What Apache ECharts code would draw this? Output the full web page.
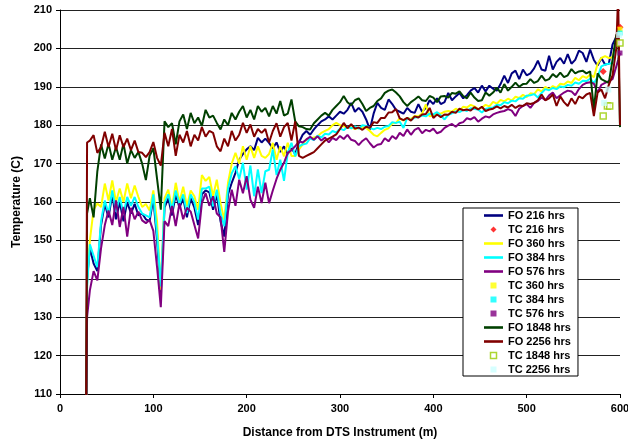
<!DOCTYPE html>
<html><head><meta charset="utf-8">
<script src="https://cdn.jsdelivr.net/npm/echarts@6/dist/echarts.min.js"></script>
<style>html,body{margin:0;padding:0;background:#fff}#c{width:628px;height:442px}</style>
</head><body><div id="c"></div>
<script>
// Distance from DTS instrument (m)
const distance = [28,29,32,36,40,44,48,52,56,60, 64,68,72,76,80,84,88,92,96,100,
 104,108,112,116,120,124,128,132,136,140, 144,148,152,156,160,164,168,172,176,180,
 184,188,192,196,200,204,208,212,216,220, 224,228,232,236,240,244,248,252,256,260,
 264,268,272,276,280,284,288,292,296,300, 304,308,312,316,320,324,328,332,336,340,
 344,348,352,356,360,364,368,372,376,380, 384,388,392,396,400,404,408,412,416,420,
 424,428,432,436,440,444,448,452,456,460, 464,468,472,476,480,484,488,492,496,500,
 504,508,512,516,520,524,528,532,536,540, 544,548,552,556,560,564,568,572,576,580,
 584,588,592,596,598,600];

const fo216 = [100,140,148,144,142,154,159.5,156,162,155.5,
 160,155,160,157,159.5,156.5,157,155.5,155,161,
 150,136,158.5,161,156.5,162,158.5,161,156,161,
 158.5,154,162,163,162.5,158,162,155,151,162,
 165,167.6,171,172.5,173.7,174.5,173.5,176.7,175.5,176.5,
 175.4,174,175.5,173,174.5,172.5,174,172.5,175.5,177.5,
 178.5,177.5,178.9,180,181,181.5,182.3,181.5,182.5,183.5,
 183,184,185.8,183.5,184.5,183.5,181.5,178.9,183,185.8,
 184.5,184,186.7,185.5,184,183.5,183,184.5,183.5,183.2,
 185.5,183.5,184.5,186.5,185.5,187,185.5,186,188.4,186.5,
 187.5,188.4,187,187.8,189,189.7,188.5,190.3,188.8,190.3,
 189.5,189,190.7,192.9,191,193.5,194.2,192,194.5,193,
 193.5,194.8,196.8,194.5,194.2,198.1,194.5,196.5,197.5,196,
 198.5,196,197,199.4,198.8,196.5,199.7,197,195.5,197.5,
 195.8,196,201,203,203.5,204];

const fo360 = [100,140,150,158,159.6,158.7,164.8,160.4,165.6,160,
 163.5,160,164.8,161,164.3,161.3,158.7,159.5,157.8,163,
 155,137,161,163.2,158.5,165,160,164,158.9,163,
 161.5,158,167,165.5,166.5,161.5,165.8,159.7,155.4,165,
 170,172.8,170,174.5,171,174.5,171.5,174.5,172,171.5,
 172.5,175.4,171,174.5,171.9,175.4,172,172,173.7,175,
 176.3,176.5,176.8,177.1,178,178.5,179,180,180.6,180,
 179.7,179.3,179.5,179,179.3,179.5,179.3,178.5,177.5,177.1,
 178,178.8,179.2,180.5,180.6,181.8,181.2,181.9,181.6,182.4,
 182.3,183,185.4,182.3,182.5,183.2,183,183.5,183.7,183.5,
 184.3,183.8,184.8,184.6,185.3,184.9,184.2,184.6,185.3,184.9,
 186.1,185.6,186.6,186.2,186.9,186.4,187.4,187.1,187.9,187.3,
 188.3,188.1,189.3,188.8,190,189.3,190.2,189.7,190.8,190.6,
 191.4,191,192.3,191.7,192.8,192.3,193.2,192.5,196,197.5,
 198,197.5,197.7,202,204,205];

const fo384 = [100,138,149,146,143,155,160.4,157,163,157.5,
 161.3,157,161.3,159,161.3,158.7,157,156.5,156,162,
 151.7,138,159.7,162,158,163,159.5,162,157.1,162,
 160,155.4,163.5,163.5,164,158.9,163.2,157.1,153.7,163.5,
 167.5,169.3,166,170.2,163.2,169.5,161.5,168.5,162.3,168,
 168.4,173.7,167,171,165.5,172.8,175.4,171.9,174.5,175,
 175.2,176.6,176.1,177.3,176.8,177.8,177.6,178.5,178.1,179.1,
 178.7,179.6,179.2,179.7,179.1,180,179.8,179.3,178.9,179.3,
 179,179.6,179.8,180.8,180.6,180.9,179.3,181.9,181.3,182,
 182.1,182.5,182.3,183,182.8,183.4,182.5,181.5,182.7,183.1,
 183.6,183.4,184,183.7,184.4,184.2,184.1,183.3,184.2,184.5,
 184.6,185.3,185.2,186,185.7,186.4,186.2,187,186.9,187.7,
 187.8,188.1,187.2,188.4,189.4,189.1,189.7,189.4,190.1,189.9,
 190.5,190.3,191.1,190.8,191.6,191.5,192.1,191,192.5,195.3,
 195.8,196,196.2,201.4,203,204];

const fo576 = [100,130,137,142,139.6,148,154,157.8,154,160.4,
 153.5,158.7,151,158.5,155.5,157.5,155.2,154.5,155.3,152.5,
 143,132.6,155,153.7,159,153.7,159.7,155.5,158.5,157.5,
 154,150.5,159.7,162.3,159,161.5,157,156,147,157.5,
 163.2,159,165.8,162.3,166.7,160.6,158.5,164,159.7,165,
 159.7,163,166,168.4,170.2,172.8,173.5,174.5,175.8,175.5,
 176.3,177,176.2,177.1,176,176.8,175.5,176.7,176.1,177.2,
 176.4,177.5,176.2,175.9,174.8,175.9,176.6,175.3,174.2,174.9,
 175.1,176.6,175.8,177.2,176.4,178,177.2,178.9,177.5,178.8,
 179.3,177.9,178.8,178.4,179.1,177.9,178.3,179.3,179.9,180.3,
 179.6,180.5,180.8,181.8,181.5,182.1,180.9,181.7,182.3,182,
 182.8,183.2,183.5,183.7,184.2,183.8,182.4,184.3,185,185.5,
 184.5,185.8,186.3,187.2,186.5,187.8,188.5,187,187.8,188.5,
 189,188.8,187.8,189.4,190.5,191,191.2,190.8,188.5,190.5,
 191,191.5,192,195.3,197,198.8];

const fo1848 = [100,157,161,156,168,175,171.3,175.2,171,174.3,
 171,175.2,170,173.5,171.5,173,170,165.7,172,174,
 166,158,181,179.5,180.5,175,181,182.8,179,183.2,
 180.5,182,179.8,184,182,182.5,180.6,178.9,181.5,180,
 183.2,181.5,183.5,185,182,184,181.5,185,183.5,184.5,
 182.3,185,183,186.3,182.5,183,186.7,181,179.7,179.5,
 179,178.9,180.5,181.5,182.5,183.2,182.5,184,185,186,
 187.6,186,185.2,186.5,187,185.5,183.7,184.5,185,186.3,
 187,188.4,189,189.3,188.5,187.5,186,185,186,186.7,
 187.5,186.5,186.3,187.6,187.2,186,187.5,187.6,187.2,188.4,
 188.2,188.8,187.6,187,188.5,187.2,186.3,186.5,188.5,187.7,
 188.5,189.8,188.5,190.7,189,190,191.1,190,190.7,190.8,
 192,191,191.5,192.9,191.6,192,193.3,192.5,193.7,192.5,
 193,194.6,193.5,194,194.2,193.5,194,184,193.5,192,
 191.5,191,197,203.5,204.2,179.5];

const fo2256 = [100,175.5,176,177.4,172.8,174.3,178.3,174.3,177.8,173.5,
 177.4,174.3,176.5,173.5,176,173,172.8,171.7,173,175.6,
 171.5,169.5,178,174.5,179,172,177.5,175.5,178.5,174.5,
 177.5,176,179.5,177,178.5,178,174.5,173.2,176.5,174.5,
 178.5,176,177.5,180.6,178,180.2,177,179,178,179,
 175.5,178.5,180.5,177,179.5,180.6,176,181,172,171.5,
 172,172.5,173,174,175,176,176.5,177,177.6,179,
 180.6,179.2,180.3,179.1,179.4,178.8,179.6,179.3,180.8,180.6,
 181.9,181.9,183.3,183.4,184.2,181.8,181.3,181.9,181.2,182.3,
 182,182.8,182.9,184.5,181.9,182.8,182.1,182.8,182.7,183.5,
 183.2,184.3,183.9,184.1,183.8,184.7,184.1,184.8,183.7,184.1,
 184.3,184.9,184.4,185,184.6,185.3,184.5,185.1,185,185.7,
 185.5,185.8,186.5,188,186.5,187,188,185,187.5,186,
 185,187,185.5,187.5,187,188,188.4,182.4,188.5,189.3,
 187,190.5,193,200,214,180];

// Thermocouple readings [distance, temperature]
const tc216 = [[582,194],[600,205.5]];
const tc360 = [[600,205]];
const tc384 = [[600,204]];
const tc576 = [[600,198.8]];
const tc1848 = [[582,182.4],[586.5,185],[589,185],[600,201.4]];
const tc2256 = [[583,185.8],[587.5,189.3],[599,203.5]];

const xTicks = {min:0, max:600, step:100};
const yTicks = {min:110, max:210, step:10};

const FONT = '"Liberation Sans", Arial, Helvetica, sans-serif';
const LINE_ICON = 'path://M0,0L19,0L19,2.6L0,2.6Z';
const SQUARE_ICON = 'path://M0,0L10,0L10,10L0,10Z';
const DIAMOND_ICON = 'path://M5,0L10,5L5,10L0,5Z';

function pairs(ys){ return distance.map((x,i)=>[x, ys[i]]); }
function line(name, ys, color){
  return {name, type:'line', data:pairs(ys), symbol:'none', showSymbol:false,
    lineStyle:{color, width:2}, itemStyle:{color}, clip:true, animation:false};
}
function dots(name, pts, symbol, size, style){
  return {name, type:'scatter', data:pts, symbol, symbolSize:size, itemStyle:style, clip:false, animation:false, z:5};
}

const series = [
  line('FO 216 hrs', fo216, '#000080'),
  dots('TC 216 hrs', tc216, 'diamond', 7, {color:'#ff0000'}),
  line('FO 360 hrs', fo360, '#ffff00'),
  line('FO 384 hrs', fo384, '#00ffff'),
  line('FO 576 hrs', fo576, '#800080'),
  dots('TC 360 hrs', tc360, 'rect', 5, {color:'#ffff00'}),
  dots('TC 384 hrs', tc384, 'rect', 5, {color:'#00ffff'}),
  dots('TC 576 hrs', tc576, 'rect', 5, {color:'#800080'}),
  line('FO 1848 hrs', fo1848, '#004000'),
  line('FO 2256 hrs', fo2256, '#800000'),
  dots('TC 1848 hrs', tc1848, 'rect', 6, {color:'#ffffff', borderColor:'#99cc00', borderWidth:1.5}),
  dots('TC 2256 hrs', tc2256, 'rect', 6, {color:'#ccffff'})
];

const legendData = series.map(s => {
  if (s.type === 'line') return {name:s.name, icon:LINE_ICON, itemStyle:{color:s.lineStyle.color}};
  return {name:s.name, icon: s.symbol === 'diamond' ? DIAMOND_ICON : SQUARE_ICON,
    itemStyle:Object.assign({borderWidth:0}, s.itemStyle)};
});

const chart = echarts.init(document.getElementById('c'), null, {renderer:'canvas'});
chart.setOption({
  animation:false,
  backgroundColor:'#ffffff',
  textStyle:{fontFamily:FONT},
  grid:{left:60, right:8, top:10, bottom:48, containLabel:false, outerBoundsMode:'none'},
  xAxis:{type:'value', min:xTicks.min, max:xTicks.max, interval:xTicks.step,
    axisLine:{show:true, onZero:false, lineStyle:{color:'#000', width:1}},
    axisTick:{show:true, length:4, lineStyle:{color:'#000'}},
    axisLabel:{color:'#000', fontWeight:'bold', fontSize:11, fontFamily:FONT, margin:9},
    splitLine:{show:false},
    name:'Distance from DTS Instrument (m)', nameLocation:'middle', nameGap:33,
    nameTextStyle:{color:'#000', fontWeight:'bold', fontSize:12, fontFamily:FONT}},
  yAxis:{type:'value', min:yTicks.min, max:yTicks.max, interval:yTicks.step,
    axisLine:{show:true, onZero:false, lineStyle:{color:'#000', width:1}},
    axisTick:{show:true, length:4, lineStyle:{color:'#000'}},
    axisLabel:{color:'#000', fontWeight:'bold', fontSize:11, fontFamily:FONT, margin:8},
    splitLine:{show:true, lineStyle:{color:'#222', width:1}},
    name:'Temperature (C)', nameLocation:'middle', nameGap:35,
    nameTextStyle:{color:'#000', fontWeight:'bold', fontSize:12, fontFamily:FONT}},
  legend:{data:legendData, orient:'vertical', left:463, top:208,
    padding:[1,7,0,21], itemGap:1, itemWidth:19, itemHeight:6,
    backgroundColor:'#ffffff', borderColor:'#000', borderWidth:1,
    selectedMode:false,
    textStyle:{color:'#000', fontWeight:'bold', fontSize:11, fontFamily:FONT, lineHeight:13}},
  series
});
</script>
</body></html>
